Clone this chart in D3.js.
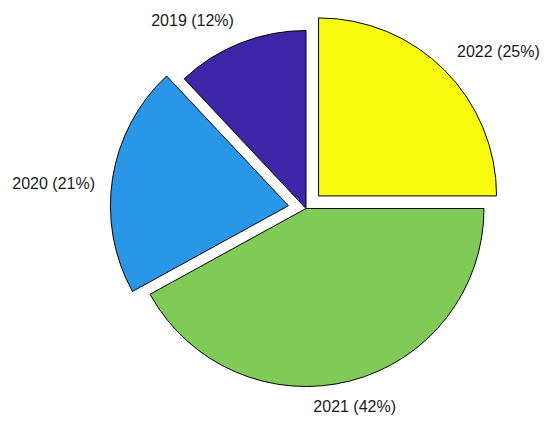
<!DOCTYPE html>
<html>
<head>
<meta charset="utf-8">
<script src="https://cdn.jsdelivr.net/npm/d3@7"></script>
<style>
  html, body { margin: 0; padding: 0; background: #fff; }
  svg { display: block; }
  text { font-family: "Liberation Sans", Arial, Helvetica, sans-serif; font-size: 16px; fill: #1a1a1a; }
</style>
</head>
<body>
<div id="chart"></div>
<script>
const categories = ["2019", "2020", "2021", "2022"];
const values = [12, 21, 42, 25];
const exploded = [false, true, false, true];
const colors = ["#3e26a8", "#2a96e8", "#80cb58", "#f9fb0e"];

const width = 550, height = 427;
const cx = 306, cy = 208.5, radius = 178;
const explodeDist = 0.1 * radius;
const labelDist = 1.1 * radius;

const svg = d3.select("#chart").append("svg")
  .attr("width", width).attr("height", height)
  .style("background", "#fff");

const data = categories.map((c, i) => ({ cat: c, value: values[i], exploded: exploded[i], color: colors[i] }));

// MATLAB-style pie: starts at 12 o'clock, goes counter-clockwise
const pie = d3.pie().value(d => d.value).sort(null).startAngle(0).endAngle(-2 * Math.PI);
const arcs = pie(data);
const arc = d3.arc().innerRadius(0).outerRadius(radius);

const total = d3.sum(values);

const g = svg.append("g").attr("transform", `translate(${cx},${cy})`);

arcs.forEach(a => {
  const mid = (a.startAngle + a.endAngle) / 2;
  const off = a.data.exploded ? explodeDist : 0;
  const ox = Math.sin(mid) * off, oy = -Math.cos(mid) * off;
  g.append("path")
    .attr("d", arc(a))
    .attr("transform", `translate(${ox},${oy})`)
    .attr("fill", a.data.color)
    .attr("stroke", "#000")
    .attr("stroke-width", 1)
    .attr("stroke-linejoin", "miter");

  const s = Math.sin(mid), c = Math.cos(mid);
  const lx = ox + s * labelDist, ly = oy - c * labelDist;
  const anchor = Math.abs(s) < 0.3 ? "middle" : (s > 0 ? "start" : "end");
  const baseline = c > 0.5 ? "alphabetic" : "text-before-edge";
  const pct = Math.round(a.data.value / total * 100);
  g.append("text")
    .attr("x", lx).attr("y", ly)
    .attr("text-anchor", anchor)
    .attr("dominant-baseline", baseline)
    .text(`${a.data.cat} (${pct}%)`);
});
</script>
</body>
</html>
